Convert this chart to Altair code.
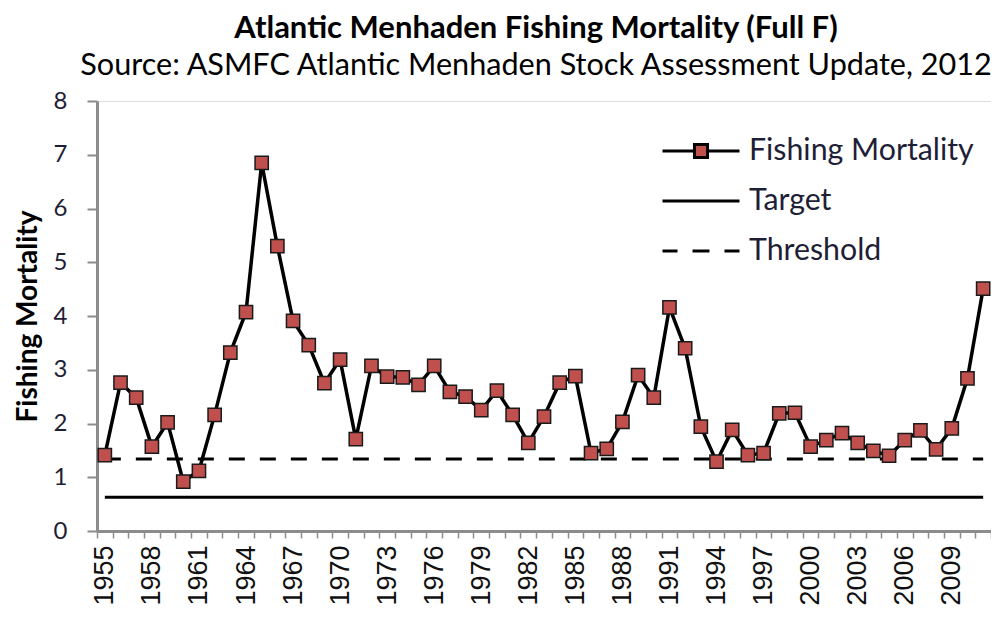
import altair as alt
import pandas as pd

years = list(range(1955, 2012))
fishing_mortality = [
    1.41, 2.76, 2.48, 1.57, 2.02, 0.92, 1.12, 2.16, 3.32, 4.07,
    6.85, 5.30, 3.91, 3.46, 2.75, 3.19, 1.71, 3.07, 2.87, 2.86,
    2.72, 3.07, 2.59, 2.50, 2.25, 2.61, 2.16, 1.64, 2.13, 2.76,
    2.88, 1.45, 1.53, 2.03, 2.90, 2.48, 4.16, 3.40, 1.94, 1.29,
    1.88, 1.41, 1.45, 2.19, 2.20, 1.57, 1.69, 1.82, 1.64, 1.49,
    1.40, 1.69, 1.87, 1.52, 1.91, 2.84, 4.51,
]
target_value = 0.63
threshold_value = 1.34
series_names = ["Fishing Mortality", "Target", "Threshold"]
label_years = [1955, 1958, 1961, 1964, 1967, 1970, 1973, 1976, 1979,
               1982, 1985, 1988, 1991, 1994, 1997, 2000, 2003, 2006, 2009]
y_ticks = [0, 1, 2, 3, 4, 5, 6, 7, 8]

df = pd.DataFrame({"year": years, "F": fishing_mortality,
                   "series": series_names[0]})
ref = pd.DataFrame({
    "year": [years[0], years[-1], years[0], years[-1]],
    "F": [target_value, target_value, threshold_value, threshold_value],
    "series": ["Target", "Target", "Threshold", "Threshold"],
})

GREY = "#8c8c8c"
LABEL = "#1e1e36"

label_expr = "indexof(" + str(label_years) + ", datum.value) >= 0 ? datum.label : ''"

x_enc = alt.X(
    "year:O",
    scale=alt.Scale(type="band", paddingInner=0, paddingOuter=0),
    axis=alt.Axis(
        title=None, labelAngle=270, labelExpr=label_expr, tickBand="extent",
        labelFont="Liberation Sans", labelFontSize=27, labelColor="#111111",
        labelAlign="right", labelBaseline="middle", labelPadding=7,
        tickSize=7, tickColor=GREY, tickWidth=1.5,
        domainColor=GREY, domainWidth=3, labelOverlap=False,
    ),
)
y_enc = alt.Y(
    "F:Q",
    scale=alt.Scale(domain=[0, 8], nice=False),
    axis=alt.Axis(
        title="Fishing Mortality", values=y_ticks, grid=False,
        titleFont="Lato", titleFontSize=28, titleFontWeight="bold",
        titleColor="#000000", titlePadding=11,
        labelFont="Lato", labelFontSize=24, labelColor=LABEL,
        labelPadding=20, tickSize=10, tickColor=GREY, tickWidth=2,
        domainColor=GREY, domainWidth=3,
    ),
)

line = alt.Chart(df).mark_line(color="black", strokeWidth=3.5).encode(x=x_enc, y=y_enc)
squares = alt.Chart(df).mark_square(
    size=175, fill="#C0504D", stroke="#1a1a1a", strokeWidth=1.5, opacity=1
).encode(x="year:O", y="F:Q")

target = alt.Chart(ref).transform_filter("datum.series == 'Target'").mark_line(
    color="black", strokeWidth=3).encode(x="year:O", y="F:Q")
threshold = alt.Chart(ref).transform_filter("datum.series == 'Threshold'").mark_line(
    color="black", strokeWidth=3, strokeDash=[16, 15]).encode(x="year:O", y="F:Q")

# legend symbols: line with square marker, solid line, dashed line
sym_fm = "M-2,0H-0.34M0.34,0H2M-0.34,-0.34H0.34V0.34H-0.34Z"
sym_target = "M-2,0H2"
sym_threshold = "M-2,0H-1.22M-0.44,0H0.44M1.22,0H2"

legend_layer = alt.Chart(df).transform_filter("false").mark_point(
    filled=False, fill="#C0504D", stroke="black", strokeWidth=3, opacity=1
).encode(
    shape=alt.Shape(
        "series:N",
        scale=alt.Scale(domain=series_names, range=[sym_fm, sym_target, sym_threshold]),
        legend=alt.Legend(
            title=None, orient="none", legendX=583, legendY=29, padding=0,
            symbolSize=1482, symbolStrokeWidth=3, labelFont="Lato", labelFontSize=30.3,
            labelColor=LABEL, labelOffset=27, rowPadding=13, labelLimit=400,
        ),
    )
)

chart = alt.layer(target, threshold, line, squares, legend_layer).properties(
    width=894, height=430,
    autosize=alt.AutoSizeParams(type="none"),
    padding={"left": 89, "top": 93, "right": 0, "bottom": 80},
    title=alt.TitleParams(
        text="Atlantic Menhaden Fishing Mortality (Full F)",
        subtitle="Source:  ASMFC Atlantic Menhaden Stock Assessment Update, 2012",
        font="Lato", fontSize=31, fontWeight="bold", color="#000000",
        subtitleFont="Lato", subtitleFontSize=30.6, subtitleColor="#000000",
        anchor="middle", dx=-8, offset=6, subtitlePadding=6,
    ),
).configure_view(stroke=GREY, strokeWidth=2).configure(background="white")

chart.save("out.html", embed_options={"renderer": "svg", "actions": False})
